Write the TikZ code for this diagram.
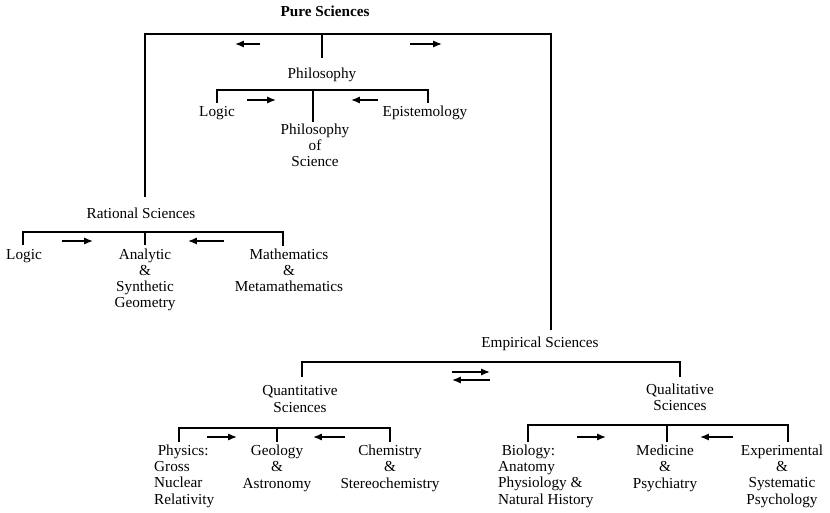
\documentclass[tikz,border=0pt]{standalone}
\usepackage{fontspec}
\setmainfont{Liberation Serif}
\usetikzlibrary{arrows.meta}
\begin{document}
\begin{tikzpicture}[x=0.03cm,y=-0.03cm,
    lbl/.style={font=\fontsize{13}{13.7}\selectfont,inner sep=0pt,align=center,anchor=base},
    lbll/.style={lbl,align=left,anchor=base west},
    br/.style={line width=1.2pt},
    arr/.style={-{Latex[length=7.5pt,width=6pt]},line width=1.2pt}]
  \useasboundingbox (0,0) rectangle (830,513);
  % Pure Sciences (base = baseline of last line)
  \node[lbl,font=\fontsize{13}{13.7}\selectfont\bfseries] (pure) at (325,17) {Pure Sciences};
  \coordinate (pureBar) at (322,34);
  \coordinate (pureC) at (322,58);
  \coordinate (ratTop) at (145,197);
  \coordinate (empTop) at (551,330);
  \draw[br] (ratTop) |- (pureBar) -| (empTop);
  \draw[br] (pureBar) -- (pureC);
  % Philosophy
  \node[lbl] (phil) at (322,79) {Philosophy};
  \coordinate (philBar) at (313,90);
  \coordinate (philL) at (217,103);
  \coordinate (philR) at (428,103);
  \coordinate (philC) at (313,122);
  \draw[br] (philL) |- (philBar) -| (philR);
  \draw[br] (philBar) -- (philC);
  \node[lbl] (philLogic) at (217,117) {Logic};
  \node[lbl] (episte) at (425,117) {Epistemology};
  \node[lbl] (philSci) at (315,167) {Philosophy\\of\\Science};
  % Rational Sciences
  \node[lbl] (rat) at (141,219) {Rational Sciences};
  \coordinate (ratBar) at (145,232);
  \coordinate (ratL) at (23,245);
  \coordinate (ratR) at (283,246);
  \coordinate (ratC) at (145,245);
  \draw[br] (ratL) |- (ratBar) -| (ratR);
  \draw[br] (ratBar) -- (ratC);
  \node[lbl] (ratLogic) at (24,260) {Logic};
  \node[lbl] (geom) at (145,308) {Analytic\\\&\\Synthetic\\Geometry};
  \node[lbl] (math) at (289,292) {Mathematics\\\&\\Metamathematics};
  % Empirical Sciences
  \node[lbl] (emp) at (540,348) {Empirical Sciences};
  \coordinate (empBar) at (491,362);
  \coordinate (empL) at (302,377);
  \coordinate (empR) at (680,377);
  \draw[br] (empL) |- (empBar) -| (empR);
  \node[lbl] (quant) at (300,412) {Quantitative\\Sciences};
  \node[lbl] (qual) at (680,411) {Qualitative\\Sciences};
  % Quantitative
  \coordinate (quantBar) at (277,428);
  \coordinate (quantL) at (179,442);
  \coordinate (quantR) at (390,442);
  \coordinate (quantC) at (277,442);
  \draw[br] (quantL) |- (quantBar) -| (quantR);
  \draw[br] (quantBar) -- (quantC);
  \node[lbll] (phys) at (154,504) {\hspace{3pt}Physics:\\Gross\\Nuclear\\Relativity};
  \node[lbl] (geol) at (277,488) {Geology\\\&\\Astronomy};
  \node[lbl] (chem) at (390,488) {Chemistry\\\&\\Stereochemistry};
  % Qualitative
  \coordinate (qualBar) at (667,425);
  \coordinate (qualL) at (528,442);
  \coordinate (qualR) at (788,442);
  \coordinate (qualC) at (667,442);
  \draw[br] (qualL) |- (qualBar) -| (qualR);
  \draw[br] (qualBar) -- (qualC);
  \node[lbll] (bio) at (498,504) {\hspace{3pt}Biology:\\Anatomy\\Physiology \&\\Natural History};
  \node[lbl] (med) at (665,488) {Medicine\\\&\\Psychiatry};
  \node[lbl] (psych) at (782,504) {Experimental\\\&\\Systematic\\Psychology};
  % arrows
  \foreach \xa/\xb/\y in {260/235/44, 410/442/44, 247/276/100, 378/351/100,
      62/93/241, 224/188/241, 452/490/372, 490/452/380,
      207/237/437, 345/313/437, 577/606/437, 733/700/437}
    \draw[arr] (\xa,\y) -- (\xb,\y);
\end{tikzpicture}
\end{document}
